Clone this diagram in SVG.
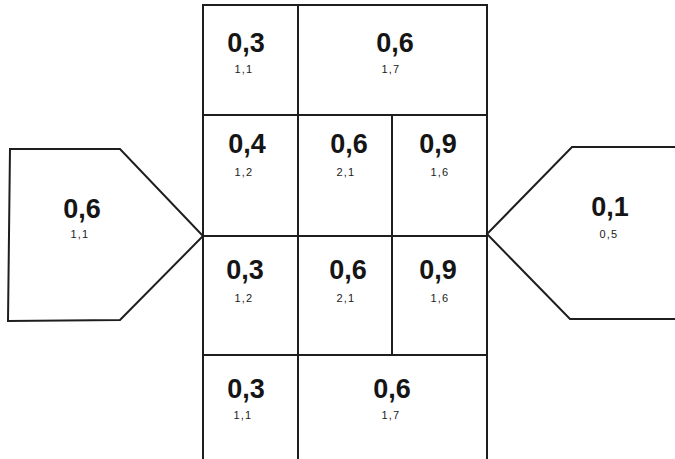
<svg xmlns="http://www.w3.org/2000/svg" width="675" height="459" viewBox="0 0 675 459">
<style>
.ln{fill:none;stroke:#1e1e1e;stroke-width:2;stroke-linejoin:miter}
.big{font-family:"Liberation Sans",Arial,sans-serif;font-size:27px;font-weight:bold;fill:#151515;text-anchor:middle}
.sm{font-family:"Liberation Sans",Arial,sans-serif;font-size:11px;fill:#1a1a1a;text-anchor:middle;letter-spacing:1.2px}
</style>
<rect width="675" height="459" fill="#fff"/>
<g id="left-node">
<path class="ln" d="M10,149 L120,149 L203,236 L120,320 L8,321 Z"/>
<text class="big" x="82" y="218">0,6</text>
<text class="sm" x="80" y="238">1,1</text>
</g>
<g id="right-node">
<path class="ln" d="M676,147 L572,147 L487,234 L570,319 L676,319"/>
<text class="big" x="610" y="216">0,1</text>
<text class="sm" x="609" y="238">0,5</text>
</g>
<g id="grid">
<path class="ln" d="M203,460 L203,5 L487,5 L487,460 M203,115 L487,115 M203,236 L487,236 M203,355 L487,355 M298,5 L298,460 M392,115 L392,355"/>
</g>
<g id="r1c1"><text class="big" x="246" y="52">0,3</text><text class="sm" x="244" y="73">1,1</text></g>
<g id="r1c2"><text class="big" x="395" y="52">0,6</text><text class="sm" x="391" y="73">1,7</text></g>
<g id="r2c1"><text class="big" x="247" y="153">0,4</text><text class="sm" x="244" y="176">1,2</text></g>
<g id="r2c2"><text class="big" x="349" y="153">0,6</text><text class="sm" x="346" y="176">2,1</text></g>
<g id="r2c3"><text class="big" x="438" y="153">0,9</text><text class="sm" x="440" y="176">1,6</text></g>
<g id="r3c1"><text class="big" x="245" y="279">0,3</text><text class="sm" x="244" y="302">1,2</text></g>
<g id="r3c2"><text class="big" x="348" y="279">0,6</text><text class="sm" x="346" y="302">2,1</text></g>
<g id="r3c3"><text class="big" x="438" y="279">0,9</text><text class="sm" x="440" y="302">1,6</text></g>
<g id="r4c1"><text class="big" x="246" y="398">0,3</text><text class="sm" x="243" y="419">1,1</text></g>
<g id="r4c2"><text class="big" x="392" y="398">0,6</text><text class="sm" x="391" y="419">1,7</text></g>
<g id="connectors"></g>
</svg>
